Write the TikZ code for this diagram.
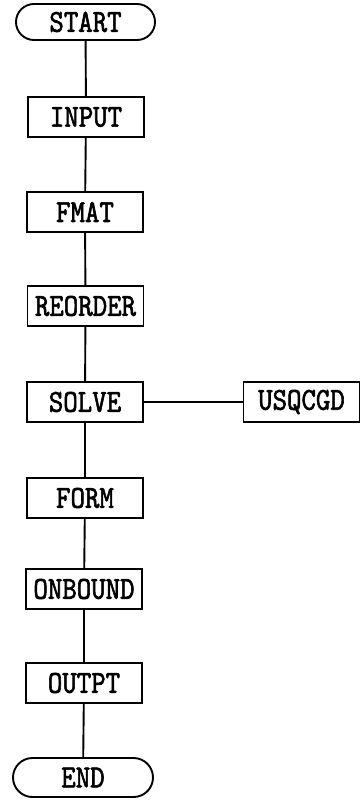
\documentclass[tikz,border=0pt]{standalone}
\usepackage{fontspec}
\usetikzlibrary{shapes.misc}
% condensed, slightly heavy typewriter face for the labels
\newfontfamily\labfont{lmmono10-regular.otf}[FakeStretch=0.86, FakeBold=1.8]
\tikzset{
  boxnode/.style={draw, line width=1.9pt, minimum width=116pt, minimum height=40pt,
    inner sep=0pt, font=\labfont\fontsize{32}{32}\selectfont},
  termnode/.style={draw, rounded rectangle, line width=1.9pt, minimum width=139pt,
    minimum height=36pt, inner sep=0pt, font=\labfont\fontsize{32}{32}\selectfont},
  link/.style={line width=1.9pt}
}
\begin{document}
\begin{tikzpicture}[x=1pt, y=-1pt]
  \useasboundingbox (0,0) rectangle (362,800);
  \node[termnode] (start) at (85.5,22) {START};
  \node[boxnode] (input) at (86,117) {INPUT};
  \node[boxnode] (fmat) at (85,212) {FMAT};
  \node[boxnode] (reorder) at (85.5,306) {REORDER};
  \node[boxnode] (solve) at (85,402) {SOLVE};
  \node[boxnode] (usqcgd) at (301.5,402) {USQCGD};
  \node[boxnode] (form) at (85,498) {FORM};
  \node[boxnode] (onbound) at (84,589) {ONBOUND};
  \node[boxnode] (outpt) at (84,683) {OUTPT};
  \node[termnode, minimum height=39pt, minimum width=140pt] (end) at (83,777.5) {END};
  \draw[link] (start) -- (input) -- (fmat) -- (reorder) -- (solve) -- (form)
    -- (onbound) -- (outpt) -- (end);
  \draw[link] (solve) -- (usqcgd);
\end{tikzpicture}
\end{document}
